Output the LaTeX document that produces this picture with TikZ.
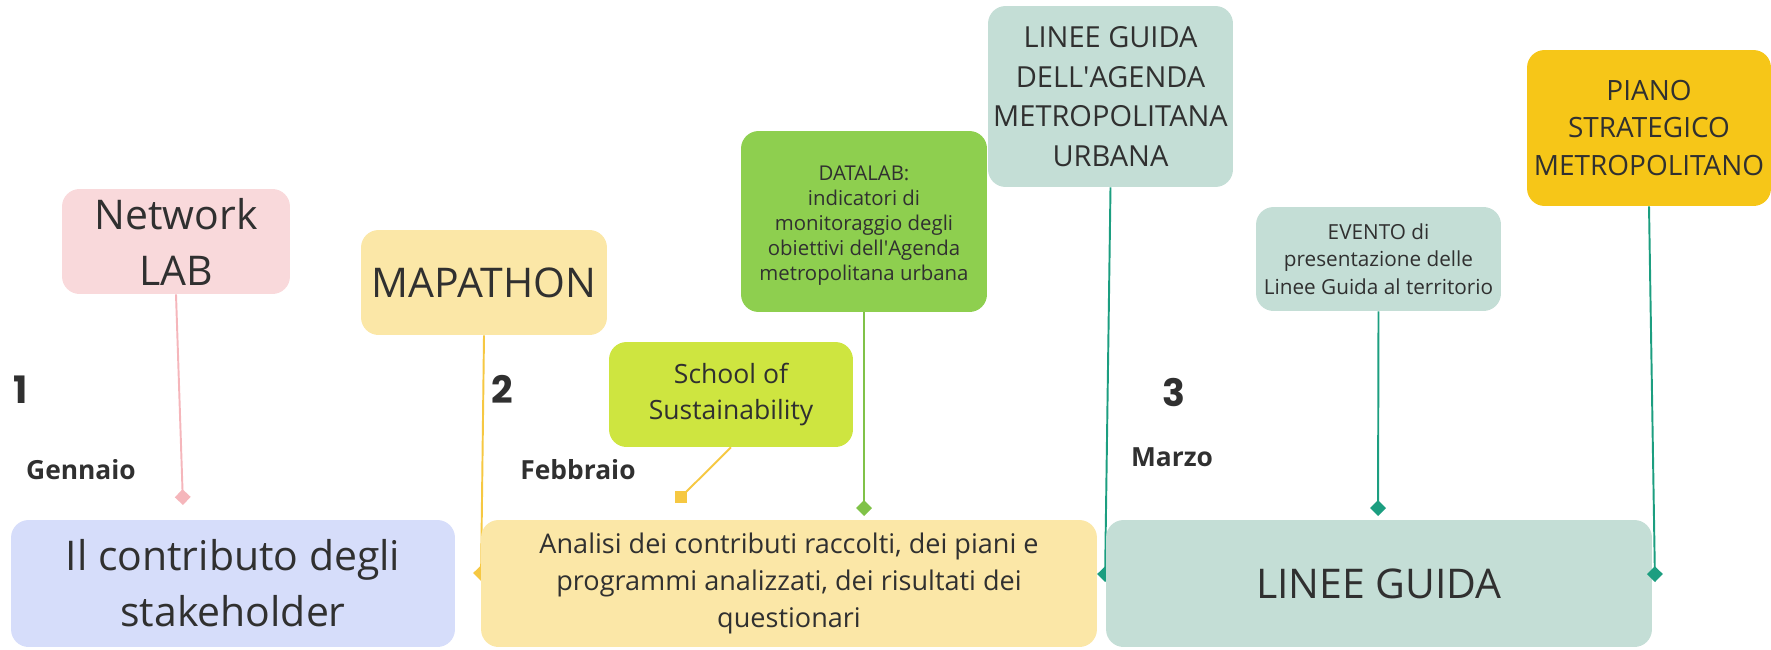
\documentclass[tikz,border=0pt]{standalone}
\usepackage{fontspec}
\setmainfont{Open Sans}
\newfontfamily\numfont{Poppins}
\usepackage{tikz}
\usetikzlibrary{arrows.meta, positioning, backgrounds, calc}
\definecolor{txtdark}{RGB}{48,48,48}
\definecolor{pinkfill}{RGB}{249,217,219}
\definecolor{sandfill}{RGB}{251,231,167}
\definecolor{limefill}{RGB}{206,229,64}
\definecolor{greenfill}{RGB}{142,207,79}
\definecolor{tealfill}{RGB}{196,222,214}
\definecolor{goldfill}{RGB}{246,198,24}
\definecolor{lilacfill}{RGB}{214,221,250}
\definecolor{pinkline}{RGB}{245,182,187}
\definecolor{amberline}{RGB}{246,200,66}
\definecolor{greenline}{RGB}{128,194,72}
\definecolor{tealline}{RGB}{28,158,128}
\tikzset{
  box/.style={rectangle, rounded corners=10pt, align=center, text=txtdark, inner sep=0pt},
  bigtext/.style={font=\fontsize{23.3}{31.9}\selectfont},
  link/.style={line width=1.1pt, -{Kite[length=9pt, width=9pt, inset=4.5pt]}},
  plainlink/.style={line width=1.1pt},
  stepnum/.style={font=\numfont\bfseries\fontsize{21.5}{24}\selectfont, text=txtdark},
  month/.style={font=\bfseries\fontsize{15}{18}\selectfont, text=txtdark}
}
\begin{document}
\begin{tikzpicture}[x=0.02cm, y=-0.02cm]
  \useasboundingbox (0,0) rectangle (1771,649);

  % Main blocks
  \node[box, bigtext, fill=lilacfill, minimum width=8.88cm, minimum height=2.54cm] (contrib) at (233,583.5) {Il contributo degli\\stakeholder};
  \node[box, fill=sandfill, minimum width=12.32cm, minimum height=2.54cm, font=\fontsize{15.4}{20.9}\selectfont] (analisi) at (789,583.5) {Analisi dei contributi raccolti, dei piani e\\programmi analizzati, dei risultati dei\\questionari};
  \node[box, bigtext, fill=tealfill, minimum width=10.92cm, minimum height=2.54cm] (lineeguida) at (1379,583.5) {LINEE GUIDA};

  % Activities
  \node[box, bigtext, fill=pinkfill, minimum width=4.56cm, minimum height=2.10cm] (netlab) at (176,241.5) {Network\\LAB};
  \node[box, bigtext, fill=sandfill, minimum width=4.92cm, minimum height=2.10cm] (mapathon) at (484,282.5) {MAPATHON};
  \node[box, fill=limefill, minimum width=4.88cm, minimum height=2.10cm, font=\fontsize{15.1}{20.5}\selectfont] (school) at (731,394.5) {School of\\Sustainability};
  \node[box, fill=greenfill, minimum width=4.92cm, minimum height=3.62cm, font=\fontsize{11.6}{14.2}\selectfont] (datalab) at (864,221.5) {\mbox{}\\[-1.4pt]DATALAB:\\indicatori di\\monitoraggio degli\\obiettivi dell\textquotesingle Agenda\\metropolitana urbana};
  \node[box, fill=tealfill, minimum width=4.90cm, minimum height=3.62cm, font=\fontsize{16.5}{22.5}\selectfont] (agenda) at (1110.5,96.5) {LINEE GUIDA\\DELL\textquotesingle AGENDA\\METROPOLITANA\\URBANA};
  \node[box, fill=tealfill, minimum width=4.90cm, minimum height=2.08cm, font=\fontsize{11.8}{15.6}\selectfont] (evento) at (1378.5,259) {EVENTO di\\presentazione delle\\Linee Guida al territorio};
  \node[box, fill=goldfill, minimum width=4.88cm, minimum height=3.12cm, font=\fontsize{15.9}{21.6}\selectfont] (piano) at (1649,128) {PIANO\\STRATEGICO\\METROPOLITANO};

  % Steps and months
  \node[stepnum] (one) at (21,390) {1};
  \node[month] (gennaio) at (81,470) {Gennaio};
  \node[stepnum] (two) at (502,389) {2};
  \node[month] (febbraio) at (578,470) {Febbraio};
  \node[stepnum] (three) at (1174,392) {3};
  \node[month] (marzo) at (1172,457) {Marzo};

  % End points
  \coordinate (netlabend) at (183,505);
  \coordinate (mapathonend) at (481,581);
  \coordinate (schoolend) at (681,497);
  \coordinate (datalabend) at (864,516);
  \coordinate (agendaend) at (1105,582);
  \coordinate (eventoend) at (1378,516);
  \coordinate (pianoend) at (1655,582);

  % Connectors
  \begin{scope}[on background layer]
    \draw[link, pinkline] (netlab.south) -- (netlabend);
    \draw[link, amberline] (mapathon.south) -- (mapathonend);
    \draw[plainlink, amberline] (school.south) -- (schoolend);
    \draw[link, greenline] (datalab.south) -- (datalabend);
    \draw[link, tealline] (agenda.south) -- (agendaend);
    \draw[link, tealline] (evento.south) -- (eventoend);
  \end{scope}
  \fill[amberline] ($(schoolend)+(-6,-6)$) rectangle ($(schoolend)+(6,6)$);
  \draw[link, tealline] (piano.south) -- (pianoend);
\end{tikzpicture}
\end{document}
